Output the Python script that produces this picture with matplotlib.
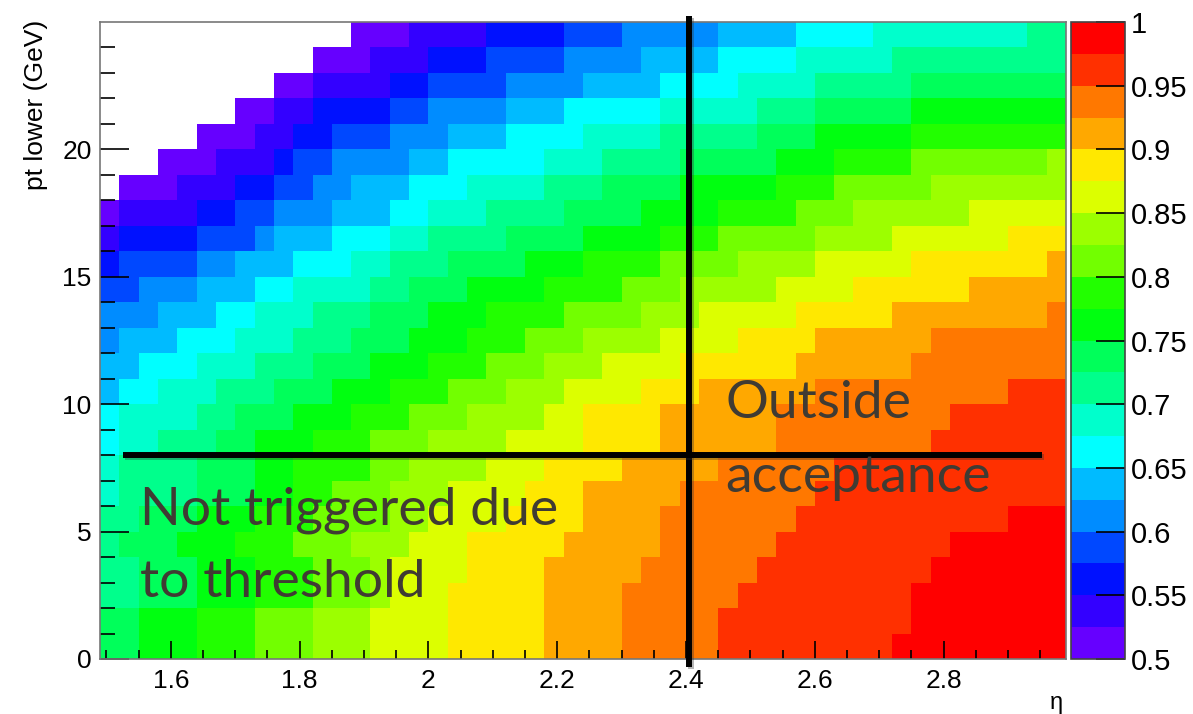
import numpy as np
import matplotlib
matplotlib.use("Agg")
import matplotlib.pyplot as plt
from matplotlib.colors import ListedColormap, BoundaryNorm
import matplotlib.patheffects as pe

# ---------------- data ----------------
# colour bands of the z palette (efficiency), bottom -> top
band_edges = [0.5, 0.525, 0.55, 0.575, 0.6, 0.625, 0.65, 0.675, 0.7, 0.725, 0.75,
              0.775, 0.8, 0.825, 0.85, 0.875, 0.9, 0.925, 0.95, 0.975, 1.0]
band_colors = ["#6600ff", "#3300ff", "#0011ff", "#0048ff", "#008cff", "#00bbff",
               "#00ffff", "#00ffcc", "#00ff8c", "#00ff5a", "#00ff10", "#22ff00",
               "#72ff00", "#9cff00", "#dcff00", "#ffe800", "#ffa800", "#ff7800",
               "#ff3000", "#ff0000"]
band_codes = "abcdefghijklmnopqrst"   # a = band 0 (0.5-0.525) ... t = band 19 (0.975-1)

# eta bins (50 bins of 0.03) and pt bins (1 GeV)
eta_lo, eta_hi, n_eta = 1.49, 2.99, 50
pt_lo, pt_hi, n_pt = 0, 25, 25

# each row (pt bin, from pt=0 upward): runs of "band-code + number of eta bins"; "." = empty
row_runs = [
    "j2 k3 l3 m3 n3 o4 p5 q4 r5 s9 t9",             # 0-1 GeV
    "j2 k3 l3 m3 n3 o4 p5 q4 r5 s10 t8",            # 1-2
    "i2 j3 k3 l3 m3 n1 o3 p5 q4 r6 s9 t8",          # 2-3
    "i2 j3 k3 l3 m3 n1 o4 p4 q5 r6 s9 t7",          # 3-4
    "i1 j3 k3 l3 m3 n3 o3 p5 q5 r6 s9 t6",          # 4-5
    "i2 j3 k3 l3 m4 n2 o4 p4 q4 r7 s11 t3",         # 5-6
    "h1 i4 j3 k2 l2 m3 n3 o4 p3 q5 r7 s13",         # 6-7
    "h1 i4 j3 k2 l4 m2 n4 o3 p4 q5 r6 s12",         # 7-8
    "g1 h2 i3 j2 k3 l3 m3 n4 o4 p4 q6 r8 s7",       # 8-9
    "g1 h4 i2 j3 k3 l3 m3 n4 o2 p4 q6 r9 s6",       # 9-10
    "f1 g2 h3 i3 j3 k3 l3 m3 n3 o4 p3 q6 r10 s3",   # 10-11
    "f2 g3 h3 i3 j3 k3 l3 m3 n3 o4 p6 q6 r8",       # 11-12
    "e1 f3 g3 h3 i3 j3 k3 l3 m3 n4 o4 p4 q6 r7",    # 12-13
    "e3 f3 g2 h3 i3 j3 k3 l4 m4 n3 o5 p5 q8 r1",    # 13-14
    "d2 e3 f3 g2 h4 i2 j3 k4 l4 m3 n5 o4 p6 q5",    # 14-15
    "c1 d4 e2 f3 g3 h2 i3 j4 k3 l4 m4 n4 o5 p7 q1", # 15-16
    "b1 c4 d3 e1 f3 g3 h2 i4 j4 k4 l3 m5 n4 o6 p3", # 16-17
    "a1 b4 c2 d2 e3 f3 g2 h3 i4 j4 k4 l4 m3 n6 o5", # 17-18
    ".1 a3 b3 c2 d2 e2 f3 g3 h4 i3 j4 k5 l3 m5 n7", # 18-19
    ".3 a3 b3 c1 d2 e4 f2 g5 h3 i4 j5 k3 l4 m7 n1", # 19-20
    ".5 a3 b2 c2 d3 e3 f3 g4 h4 i5 j3 k5 l8",       # 20-21
    ".7 a2 b2 c4 d2 e4 f3 g5 h5 i3 j5 k8",          # 21-22
    ".9 a2 b4 c2 d4 e4 f4 g4 h4 i5 j8",             # 22-23
    ".11 a3 b3 c3 d4 e4 f4 g4 h5 i9",               # 23-24
    ".13 a3 b4 c4 d3 e5 f4 g4 h8 i2",               # 24-25
]

xtick_vals = [1.6, 1.8, 2.0, 2.2, 2.4, 2.6, 2.8]
xtick_labels = ["1.6", "1.8", "2", "2.2", "2.4", "2.6", "2.8"]
ytick_vals = [0, 5, 10, 15, 20]
ytick_labels = ["0", "5", "10", "15", "20"]
cbar_ticks = [0.5, 0.55, 0.6, 0.65, 0.7, 0.75, 0.8, 0.85, 0.9, 0.95, 1.0]
cbar_labels = ["0.5", "0.55", "0.6", "0.65", "0.7", "0.75", "0.8", "0.85", "0.9", "0.95", "1"]

eta_cut = 2.404       # vertical marker line
pt_cut = 8.0          # horizontal marker line
pt_line_eta = (1.526, 2.953)

# ---------------- decode the table ----------------
band_mid = [(band_edges[i] + band_edges[i + 1]) / 2 for i in range(20)]
Z = np.full((n_pt, n_eta), np.nan)
for r, spec in enumerate(row_runs):
    col = 0
    for tok in spec.split():
        code, cnt = tok[0], int(tok[1:])
        if code != ".":
            Z[r, col:col + cnt] = band_mid[band_codes.index(code)]
        col += cnt
Zm = np.ma.masked_invalid(Z)

x_edges = np.linspace(eta_lo, eta_hi, n_eta + 1)
y_edges = np.linspace(pt_lo, pt_hi, n_pt + 1)

cmap = ListedColormap(band_colors)
cmap.set_bad("white")
norm = BoundaryNorm(band_edges, cmap.N)

# ---------------- figure ----------------
W, H = 1193, 714
fig = plt.figure(figsize=(W / 100, H / 100), dpi=100)
fig.patch.set_facecolor("white")
plt.rcParams["font.family"] = ["Liberation Sans", "DejaVu Sans"]

ax = fig.add_axes([100 / W, 1 - 659 / H, 966 / W, 637 / H])
cax = fig.add_axes([1071 / W, 1 - 659 / H, 54 / W, 637 / H])

mesh = ax.pcolormesh(x_edges, y_edges, Zm, cmap=cmap, norm=norm,
                     shading="flat", antialiased=False, edgecolors="face", linewidth=0)
ax.set_xlim(eta_lo, eta_hi)
ax.set_ylim(pt_lo, pt_hi)

ax.set_xticks(xtick_vals)
ax.set_xticklabels(xtick_labels)
ax.set_xticks(np.arange(1.50, 2.99, 0.05), minor=True)
ax.set_yticks(ytick_vals)
ax.set_yticklabels(ytick_labels)
ax.set_yticks(np.arange(0, 25, 1), minor=True)

ax.tick_params(axis="x", which="major", direction="in", length=13, width=1.2,
               labelsize=19, pad=7, top=False, colors="black")
ax.tick_params(axis="x", which="minor", direction="in", length=6.5, width=1.2, top=False)
ax.tick_params(axis="y", which="major", direction="in", length=21, width=1.2,
               labelsize=19, pad=6, right=False)
ax.tick_params(axis="y", which="minor", direction="in", length=11, width=1.2, right=False)
for s in ax.spines.values():
    s.set_color("#777777")
    s.set_linewidth(1.2)

fig.text(36 / W, 1 - 20 / H, "pt lower (GeV)", rotation=90, ha="center", va="top",
         fontsize=19, color="black")
fig.text(1063 / W, 1 - 703 / H, "η", ha="right", va="center", fontsize=17, color="black")

# colour bar
cb = fig.colorbar(mesh, cax=cax, ticks=cbar_ticks, spacing="uniform")
cb.ax.set_yticklabels(cbar_labels)
cax.tick_params(axis="y", which="major", direction="in", length=21, width=1.2,
                labelsize=21, pad=4, right=True, left=False)
cax.tick_params(axis="y", which="minor", length=0)
cb.outline.set_edgecolor("#444444")
cb.outline.set_linewidth(1.2)

# marker lines
shadow = [pe.SimpleLineShadow(offset=(1.5, -1.5), alpha=0.35, shadow_color="#333333"), pe.Normal()]
ax.plot([eta_cut, eta_cut], [-0.3, 25.25], color="black", lw=4.3, clip_on=False,
        solid_capstyle="butt", zorder=5, path_effects=shadow)
ax.plot(list(pt_line_eta), [pt_cut, pt_cut], color="black", lw=4.3, clip_on=False,
        solid_capstyle="butt", zorder=5, path_effects=shadow)

# annotations
txt_kw = dict(fontsize=38.5, color="#403b33", family=["Lato", "DejaVu Sans"],
              ha="left", va="baseline", zorder=6)
ax.text(1.552, 5.26, "Not triggered due", **txt_kw)
ax.text(1.552, 2.43, "to threshold", **txt_kw)
ax.text(2.4605, 9.46, "Outside", **txt_kw)
ax.text(2.4605, 6.55, "acceptance", **txt_kw)

fig.savefig("out.png", dpi=100)
